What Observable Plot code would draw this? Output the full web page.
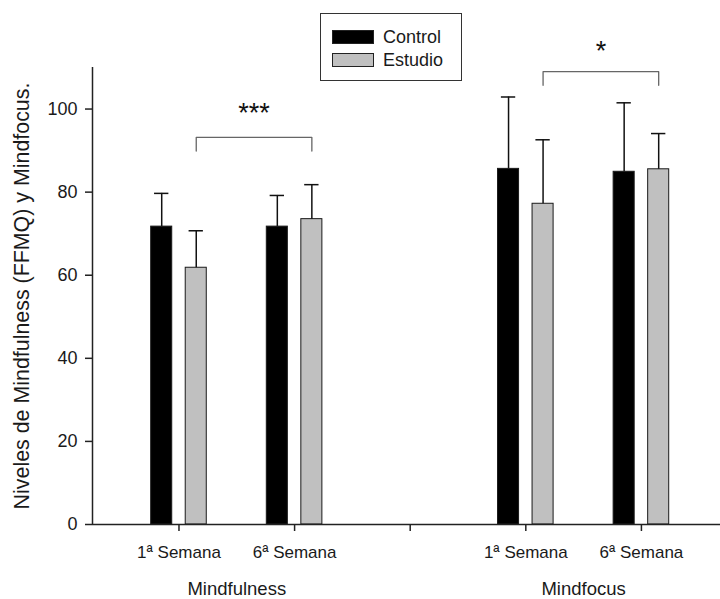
<!DOCTYPE html>
<html><head><meta charset="utf-8">
<script src="https://cdn.jsdelivr.net/npm/d3@7"></script>
<script src="https://cdn.jsdelivr.net/npm/@observablehq/plot@0.6"></script>
<style>
body{margin:0;background:#fff;font-family:"Liberation Sans",Arial,sans-serif;}
#wrap{position:relative;width:720px;height:599px;}
#legend{position:absolute;left:320px;top:13px;width:142px;height:68px;box-sizing:border-box;border:1.5px solid #333;background:#fff;}
.item{position:absolute;left:11px;display:flex;align-items:center;font-size:18px;color:#1a1a1a;line-height:18px;}
.sw{width:42px;height:14px;box-sizing:border-box;border:1px solid #222;margin-right:9px;}
</style></head><body><div id="wrap"></div>
<script>
// ---- data ----
const groups = ["Mindfulness", "Mindfocus"];
const weeks = ["1ª Semana", "6ª Semana"];
const series = ["Control", "Estudio"];
const seriesColors = ["#000000", "#c0c0c0"];
// order: Mindfulness 1ª, Mindfulness 6ª, Mindfocus 1ª, Mindfocus 6ª
const controlMean = [71.7, 71.7, 85.6, 84.9];
const controlSD   = [8.0, 7.5, 17.3, 16.6];
const estudioMean = [61.8, 73.5, 77.2, 85.5];
const estudioSD   = [8.9, 8.3, 15.4, 8.6];
const xTickLabels = ["1ª Semana", "6ª Semana", "", "1ª Semana", "6ª Semana"];
const yTicks = [0, 20, 40, 60, 80, 100];
const yTitle = "Niveles de Mindfulness (FFMQ) y Mindfocus.";
const sigLabels = ["***", "*"];
const sigBracketY = [93.2, 109];
const sigLabelY = [99.0, 114.0];

// ---- layout constants ----
const barSep = 0.2987, barW = 0.182, capW = 0.124, legDrop = 3.3;
const xDomain = [-0.748, 4.684];

const means = [controlMean, estudioMean];
const sds = [controlSD, estudioSD];
const rows = [];
groups.forEach((g, gi) => weeks.forEach((w, wi) => {
  const slot = gi * 3 + wi, k = gi * 2 + wi;
  series.forEach((s, si) => {
    rows.push({group: g, week: w, series: s, slot,
      pos: slot + (si - 0.5) * barSep,
      mean: means[si][k], sd: sds[si][k]});
  });
}));
const groupCenters = groups.map((g, gi) => gi * 3 + 0.5);

// significance brackets over the Estudio bars of each group
const brackets = [];
const sigText = [];
groups.forEach((g, gi) => {
  const est = rows.filter(r => r.group === g && r.series === "Estudio");
  const x1 = est[0].pos, x2 = est[1].pos, y = sigBracketY[gi];
  [[x1, y - legDrop], [x1, y], [x2, y], [x2, y - legDrop]].forEach(([x, yy]) => brackets.push({group: g, x, y: yy}));
  sigText.push({x: (x1 + x2) / 2, y: sigLabelY[gi], label: sigLabels[gi]});
});

const chart = Plot.plot({
  width: 720, height: 599,
  marginLeft: 92, marginRight: 0, marginTop: 67, marginBottom: 75,
  style: {fontFamily: '"Liberation Sans", Arial, sans-serif', color: "#1a1a1a", background: "#fff"},
  x: {type: "linear", domain: xDomain},
  y: {domain: [0, 110]},
  color: {domain: series, range: seriesColors},
  marks: [
    Plot.rectY(rows, {x1: d => d.pos - barW / 2, x2: d => d.pos + barW / 2, y1: 0, y2: "mean",
      fill: "series", stroke: "#1a1a1a", strokeWidth: 1}),
    Plot.ruleX(rows, {x: "pos", y1: "mean", y2: d => d.mean + d.sd, stroke: "#111", strokeWidth: 1.5}),
    Plot.ruleY(rows, {y: d => d.mean + d.sd, x1: d => d.pos - capW / 2, x2: d => d.pos + capW / 2, stroke: "#111", strokeWidth: 1.5}),
    Plot.line(brackets, {x: "x", y: "y", z: "group", stroke: "#666", strokeWidth: 1.3}),
    Plot.text(sigText, {x: "x", y: "y", text: "label", fontSize: 27, fill: "#111"}),
    Plot.ruleY([0], {stroke: "#222", strokeWidth: 1.5}),
    Plot.ruleX([xDomain[0]], {stroke: "#222", strokeWidth: 1.5}),
    Plot.axisY({ticks: yTicks, tickSize: 7, tickPadding: 8, fontSize: 18, strokeWidth: 1.5, stroke: "#222", label: null}),
    Plot.axisY({ticks: [], fontSize: 21.4, label: yTitle, labelAnchor: "center", labelOffset: 79, labelArrow: "none"}),
    Plot.axisX({ticks: xTickLabels.map((_, i) => i), tickFormat: i => xTickLabels[i], tickSize: 7, tickPadding: 14.5,
      fontSize: 17, strokeWidth: 1.5, stroke: "#222", label: null}),
    Plot.axisX({ticks: groupCenters, tickFormat: d => groups[groupCenters.indexOf(d)], tickSize: 0, tickPadding: 57.5,
      fontSize: 18.5, label: null})
  ]
});
const wrap = document.getElementById("wrap");
wrap.appendChild(chart);

// legend
const legend = document.createElement("div");
legend.id = "legend";
series.forEach((s, i) => {
  const it = document.createElement("div");
  it.className = "item";
  it.style.top = (i === 0 ? 14 : 37) + "px";
  const sw = document.createElement("span");
  sw.className = "sw";
  sw.style.background = seriesColors[i];
  it.appendChild(sw);
  it.appendChild(document.createTextNode(s));
  legend.appendChild(it);
});
wrap.appendChild(legend);
</script></body></html>
